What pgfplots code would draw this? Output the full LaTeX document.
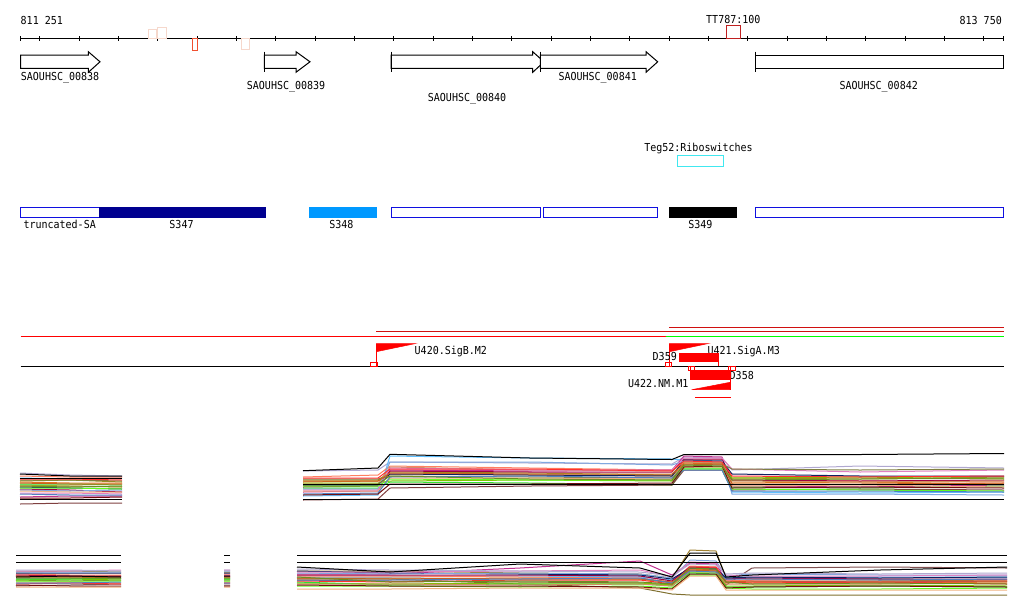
\documentclass[border=0pt]{standalone}
\usepackage{pgfplots}
\pgfplotsset{compat=1.18}
\usepackage{pgfplotstable}
\usepackage{fontspec}
\setmainfont{DejaVu Sans Mono}[FakeStretch=0.91]
\newcommand\lab{\fontsize{11}{13}\selectfont}

\definecolor{tc1}{HTML}{B0A8D0}\definecolor{tc2}{HTML}{60C0FF}\definecolor{tc3}{HTML}{FF7F60}
\definecolor{tc4}{HTML}{A09020}\definecolor{tc5}{HTML}{E07820}\definecolor{tc6}{HTML}{C03090}
\definecolor{tc7}{HTML}{A00040}\definecolor{tc8}{HTML}{80C000}\definecolor{tc9}{HTML}{30E030}
\definecolor{tc10}{HTML}{102060}\definecolor{tc11}{HTML}{80A8E0}\definecolor{tc12}{HTML}{804040}
\definecolor{tc13}{HTML}{D09060}\definecolor{tc14}{HTML}{E080C0}\definecolor{tc15}{HTML}{808040}
\definecolor{tc16}{HTML}{60FF20}\definecolor{tc17}{HTML}{FF3030}\definecolor{tc18}{HTML}{C86020}
\definecolor{tc19}{HTML}{F0B080}\definecolor{tc20}{HTML}{5080C0}\definecolor{tc21}{HTML}{701010}
\definecolor{tc22}{HTML}{6B8E23}

\definecolor{bc1}{HTML}{A08030}\definecolor{bc2}{HTML}{807030}\definecolor{bc3}{HTML}{805050}
\definecolor{bc4}{HTML}{C03090}\definecolor{bc5}{HTML}{60C0FF}\definecolor{bc6}{HTML}{FF7F60}
\definecolor{bc7}{HTML}{E07820}\definecolor{bc8}{HTML}{A00040}\definecolor{bc9}{HTML}{80C000}
\definecolor{bc10}{HTML}{30E030}\definecolor{bc11}{HTML}{102060}\definecolor{bc12}{HTML}{80A8E0}
\definecolor{bc13}{HTML}{D09060}\definecolor{bc14}{HTML}{E080C0}\definecolor{bc15}{HTML}{60FF20}
\definecolor{bc16}{HTML}{FF3030}\definecolor{bc17}{HTML}{C86020}\definecolor{bc18}{HTML}{B0A8D0}
\definecolor{bc19}{HTML}{701010}\definecolor{bc20}{HTML}{5080C0}\definecolor{bc21}{HTML}{F0B080}
\definecolor{bc22}{HTML}{6B8E23}

\definecolor{trackblue}{HTML}{1010E0}
\definecolor{navybar}{HTML}{000090}
\definecolor{skybar}{HTML}{0099FF}
\definecolor{peach}{HTML}{F6D8CC}
\definecolor{orred}{HTML}{F05030}
\definecolor{ttred}{HTML}{C02020}
\definecolor{cyanbox}{HTML}{40E8F0}
\definecolor{dkred}{HTML}{D01010}
\definecolor{brred}{HTML}{FF0000}
\definecolor{brgreen}{HTML}{00FF00}

\pgfplotstableread{
x s1 s2 s3 s4 s5 s6 s7 s8 s9 s10 s11 s12 s13 s14 s15 s16 s17 s18 s19 s20 s21 s22 s23 s24 s25
20 473 478 476 481 482 497 489 485 484 487 490 504 486 493 480 488 479 483 491 494 498 486 474 478.5 499
70 475 479 477 480 483 496 490 486 484 488 491 503 486 493 480 488 479 484 492 495 498 487 476 478.5 499
122 476 478 477 482 483 496 492 487 485 489 490 503 487 494 481 489 480 484 492 495 497 486 476 478.5 499
200 nan nan nan nan nan nan nan nan nan nan nan nan nan nan nan nan nan nan nan nan nan nan nan nan nan
303 471 496 477 480 482 492 487 483 488 485 489 500 484 490 479 486 478 481 491 494 495 485 470.7 484 499.3
378 470 495 475 480 481 491 486 483 488 485 489 499 484 490 479 486 478 481 491 493 494 484 468 484 499.3
390 462 456 466 472 474 470 471 481 482 474 462 488 467 468 476 479 469 473 478 477 484 476 454.3 484 499.3
530 463 458 468 473 475 471 472 480 483 475 462 486 470 470 477 480 469 474 478 476 484 479 458 484 499.3
672 464 459 470 475 476 470 472 481 485 476 465 485 471 470 478 480 471 474 479 478 483 480 459.5 484 499.3
684 457 460 460 462 463 456 459 466 468 460 461 470 462 458 465 469 461 464 467 470 467 465 454.5 484 499.3
722 458 461 460 462 464 457 459 467 468 461 461 470 463 458 464 469 462 464 467 470 466 466 454.5 484 499.3
732 470 492 480 478 483 486 480 478 487 474 494 490 481 469 469 489 476 484 486 491 488 480 454.5 484 499.3
860 466 493 481 479 482 487 481 477 488 476 494 489 482 472 470 490 477 484 485 491 487 479 454.5 484 499.3
1004 468 492 482 477 484 485 480 479 486 476 495 490 481 470 469 491 476 483 487 492 488 478 453.5 484 499.3
}\toptab

\pgfplotstableread{
x b1 b2 b3 b4 b5 b6 b7 b8 b9 b10 b11 b12 b13 b14 b15 b16 b17 b18 b19 b20 b21 b22 b23 b24 b25
16 572 580 586 576 578 574 577 575 580 579 573 572 582 571 581 584 576 570 585 583 587 578 555.3 562.3 577
70 571 581 585 576 578 575 577 576 579 579 573 572 582 571 581 583 577 570 586 583 587 578 555.3 562.3 576
121 572 580 584 577 579 575 576 576 580 578 573 572 583 570 581 584 578 571 586 582 587 578 555.3 562.3 577
170 nan nan nan nan nan nan nan nan nan nan nan nan nan nan nan nan nan nan nan nan nan nan nan nan nan
224 572 580 585 575 578 574 577 576 579 579 573 571 582 570 581 583 577 570 586 583 587 578 555.3 562.3 576
230 572 580 585 575 578 574 577 576 579 579 573 571 582 570 581 583 577 570 586 583 587 578 555.3 562.3 576
260 nan nan nan nan nan nan nan nan nan nan nan nan nan nan nan nan nan nan nan nan nan nan nan nan nan
297 571 578 580 574 577 576 579 575 583 582 571 573 584 572 586 581 578 569 585 580 589 577 555.3 562.3 567
390 571 579 581 574 577 576 579 575 584 585 573 574 584 572 586 582 578 570 586 580 589 582 555.3 562.3 572
520 573 584 582 568 576 577 578 575 583 584 574 573 585 571 587 580 579 571 586 579 588 581 555.3 562.3 564
640 574 588 583 561 577 578 579 576 583 584 575 574 584 570 586 580 579 572 587 578 588 582 555.3 562.3 568
672 578 594 585 575 580 582 583 581 585 586 579 578 586 577 588 584 582 576 589 583 590 584 555.3 562.3 577
690 550 595 570 563 568 566 569 567 572 573 568 560 571 562 575 567 570 564 574 571 576 568 555.3 562.3 553
716 551 595 570 564 569 567 570 568 572 574 569 561 571 563 575 567 571 565 574 572 576 569 555.3 562.3 553
726 578 595 585 580 577 581 583 579 586 587 578 576 584 575 588 582 582 574 588 579 590 582 555.3 562.3 577
752 579 595 568 581 577 580 582 578 586 587 577 574 584 576 589 583 581 573 587 579 590 584 555.3 562.3 575
880 580 595 567 582 577 579 583 579 585 586 578 575 584 576 589 582 581 574 586 580 590 583 555.3 562.3 570
1007 581 595 568 581 577 580 582 579 586 587 577 575 583 575 588 584 581 573 587 579 590 584 555.3 562.3 567
}\bottab

\begin{document}
\begin{tikzpicture}
\begin{axis}[
  scale only axis, width=1024pt, height=611pt,
  xmin=0, xmax=1024, ymin=0, ymax=611, y dir=reverse,
  hide axis, clip=false, unbounded coords=jump,
]
% page frame (invisible)
\path (axis cs:0,0) rectangle (axis cs:1024,611);
% ---------- ruler ----------
\addplot[black, line width=1pt] coordinates {(20.5,38) (1003.5,38)};
\addplot[black, line width=1pt] coordinates {
(20.7,36)(20.7,41)(20.7,nan)(39.7,36)(39.7,41)(39.7,nan)(79.0,36)(79.0,41)(79.0,nan)
(118.4,36)(118.4,41)(118.4,nan)(157.7,36)(157.7,41)(157.7,nan)(197.1,36)(197.1,41)(197.1,nan)
(236.4,36)(236.4,41)(236.4,nan)(275.7,36)(275.7,41)(275.7,nan)(315.1,36)(315.1,41)(315.1,nan)
(354.4,36)(354.4,41)(354.4,nan)(393.7,36)(393.7,41)(393.7,nan)(433.1,36)(433.1,41)(433.1,nan)
(472.4,36)(472.4,41)(472.4,nan)(511.8,36)(511.8,41)(511.8,nan)(551.1,36)(551.1,41)(551.1,nan)
(590.4,36)(590.4,41)(590.4,nan)(629.8,36)(629.8,41)(629.8,nan)(669.1,36)(669.1,41)(669.1,nan)
(708.4,36)(708.4,41)(708.4,nan)(747.8,36)(747.8,41)(747.8,nan)(787.1,36)(787.1,41)(787.1,nan)
(826.5,36)(826.5,41)(826.5,nan)(865.8,36)(865.8,41)(865.8,nan)(905.1,36)(905.1,41)(905.1,nan)
(944.5,36)(944.5,41)(944.5,nan)(983.8,36)(983.8,41)(983.8,nan)(1003.3,36)(1003.3,41)};
\node[anchor=base west, font=\lab, inner sep=0pt] at (axis cs:20.5,24) {811 251};
\node[anchor=base east, font=\lab, inner sep=0pt] at (axis cs:1002,24) {813 750};
\node[anchor=base west, font=\lab, inner sep=0pt] at (axis cs:706,23) {TT787:100};
% small boxes on ruler
\addplot[peach, line width=1pt] coordinates {(148.3,29.3)(156.7,29.3)(156.7,38)(148.3,38)} --cycle;
\addplot[peach, line width=1pt] coordinates {(157.3,27.7)(166.7,27.7)(166.7,38)(157.3,38)} --cycle;
\addplot[orred, line width=1pt] coordinates {(192.3,38.5)(197.7,38.5)(197.7,50)(192.3,50)} --cycle;
\addplot[peach, line width=1pt] coordinates {(241,38.5)(249.7,38.5)(249.7,49.7)(241,49.7)} --cycle;
\addplot[ttred, line width=1pt] coordinates {(726,25.5)(740.3,25.5)(740.3,38)(726,38)} --cycle;
% ---------- genes ----------
\addplot[black, fill=white, line width=1pt] coordinates {(20.7,55)(88.3,55)(88.3,51.7)(100,61.8)(88.3,72.3)(88.3,68.3)(20.7,68.3)} --cycle;
\addplot[black, fill=white, line width=1pt] coordinates {(264.3,55)(296,55)(296,51.7)(310,61.8)(296,72.3)(296,68.3)(264.3,68.3)} --cycle;
\addplot[black, line width=1pt] coordinates {(264.3,51.7)(264.3,72.3)};
\addplot[black, fill=white, line width=1pt] coordinates {(391,55)(532.7,55)(532.7,51.7)(544,61.8)(532.7,72.3)(532.7,68.3)(391,68.3)} --cycle;
\addplot[black, line width=1pt] coordinates {(391,51.7)(391,72.3)};
\addplot[black, fill=white, line width=1pt] coordinates {(540.3,55)(646,55)(646,51.7)(657.7,61.8)(646,72.3)(646,68.3)(540.3,68.3)} --cycle;
\addplot[black, line width=1pt] coordinates {(540.3,51.7)(540.3,72.3)};
\addplot[black, fill=white, line width=1pt] coordinates {(755.7,55)(1003.3,55)(1003.3,68.3)(755.7,68.3)} --cycle;
\addplot[black, line width=1pt] coordinates {(755.7,51.7)(755.7,72.3)};
\node[anchor=base west, font=\lab, inner sep=0pt] at (axis cs:20.7,80) {SAOUHSC\_00838};
\node[anchor=base west, font=\lab, inner sep=0pt] at (axis cs:246.7,89) {SAOUHSC\_00839};
\node[anchor=base west, font=\lab, inner sep=0pt] at (axis cs:427.7,101) {SAOUHSC\_00840};
\node[anchor=base west, font=\lab, inner sep=0pt] at (axis cs:558.3,80) {SAOUHSC\_00841};
\node[anchor=base west, font=\lab, inner sep=0pt] at (axis cs:839.3,89) {SAOUHSC\_00842};
% ---------- riboswitch ----------
\node[anchor=base, font=\lab, inner sep=0pt] at (axis cs:698.5,151.5) {Teg52:Riboswitches};
\addplot[cyanbox, line width=1pt] coordinates {(677,155.5)(723.3,155.5)(723.3,166)(677,166)} --cycle;
% ---------- transcripts track ----------
\addplot[trackblue, fill=white, line width=1pt] coordinates {(20.7,207.7)(99,207.7)(99,217.3)(20.7,217.3)} --cycle;
\addplot[navybar, fill=navybar, line width=1pt] coordinates {(99,207.7)(265,207.7)(265,217.3)(99,217.3)} --cycle;
\addplot[skybar, fill=skybar, line width=1pt] coordinates {(309,207.7)(376,207.7)(376,217.3)(309,217.3)} --cycle;
\addplot[trackblue, fill=white, line width=1pt] coordinates {(391.3,207.7)(540.7,207.7)(540.7,217.3)(391.3,217.3)} --cycle;
\addplot[trackblue, fill=white, line width=1pt] coordinates {(543,207.7)(657.3,207.7)(657.3,217.3)(543,217.3)} --cycle;
\addplot[black, fill=black, line width=1pt] coordinates {(669,207.7)(736,207.7)(736,217.3)(669,217.3)} --cycle;
\addplot[trackblue, fill=white, line width=1pt] coordinates {(755.3,207.7)(1003.3,207.7)(1003.3,217.3)(755.3,217.3)} --cycle;
\node[anchor=base west, font=\lab, inner sep=0pt] at (axis cs:23.3,228) {truncated-SA};
\node[anchor=base, font=\lab, inner sep=0pt] at (axis cs:181.5,228) {S347};
\node[anchor=base, font=\lab, inner sep=0pt] at (axis cs:341.3,228) {S348};
\node[anchor=base, font=\lab, inner sep=0pt] at (axis cs:700.3,228) {S349};
% ---------- promoters / terminators ----------
\addplot[color=brred, line width=1pt] coordinates {(20.5,336)(665.5,336)};
\addplot[color=brgreen, line width=1pt] coordinates {(665.5,336)(1004,336)};
\addplot[color=dkred, line width=1pt] coordinates {(376,331.3)(1004,331.3)};
\addplot[color=dkred, line width=1pt] coordinates {(669,327)(1004,327)};
\addplot[black, line width=1pt] coordinates {(20.5,366.3)(1004,366.3)};
% U420
\addplot[color=brred, line width=1pt] coordinates {(376.3,343.5)(376.3,366)};
\addplot[color=brred, fill=brred, line width=0.5pt] coordinates {(376.3,343.5)(415.7,343.5)(376.3,351.7)} --cycle;
\addplot[color=brred, line width=1pt] coordinates {(370.3,362.3)(377,362.3)(377,366.3)(370.3,366.3)} --cycle;
\node[anchor=base west, font=\lab, inner sep=0pt] at (axis cs:414.5,354) {U420.SigB.M2};
% U421
\addplot[color=brred, line width=1pt] coordinates {(669.3,343.5)(669.3,366)};
\addplot[color=brred, fill=brred, line width=0.5pt] coordinates {(669.3,343.5)(708.5,343.5)(669.3,351.7)} --cycle;
\addplot[color=brred, line width=1pt] coordinates {(665.3,362.3)(671.7,362.3)(671.7,366.3)(665.3,366.3)} --cycle;
\node[anchor=base west, font=\lab, inner sep=0pt] at (axis cs:707.3,354) {U421.SigA.M3};
% D359
\addplot[color=brred, fill=brred, line width=0.5pt] coordinates {(679.3,353)(718.7,353)(718.7,361.7)(679.3,361.7)} --cycle;
\addplot[color=brred, line width=1pt] coordinates {(718.7,353)(718.7,366.3)};
\node[anchor=base east, font=\lab, inner sep=0pt] at (axis cs:677,360.5) {D359};
% D358
\addplot[color=brred, fill=brred, line width=0.5pt] coordinates {(690.7,370.7)(729.3,370.7)(729.3,379.3)(690.7,379.3)} --cycle;
\addplot[color=brred, line width=1pt] coordinates {(688.3,366.3)(694,366.3)(694,370.7)(688.3,370.7)} --cycle;
\addplot[color=brred, line width=1pt] coordinates {(728.3,366.3)(735.7,366.3)(735.7,370.7)(728.3,370.7)} --cycle;
\addplot[color=brred, line width=1pt] coordinates {(690.7,366.3)(690.7,371)};
\node[anchor=base west, font=\lab, inner sep=0pt] at (axis cs:729.5,379) {D358};
% U422
\addplot[color=brred, line width=1pt] coordinates {(730,366.3)(730,390)};
\addplot[color=brred, fill=brred, line width=0.5pt] coordinates {(691.7,389.7)(730,389.7)(730,382.3)} --cycle;
\node[anchor=base east, font=\lab, inner sep=0pt] at (axis cs:688.5,387) {U422.NM.M1};
\addplot[color=brred, line width=1pt] coordinates {(695,397.3)(730.7,397.3)};
% ---------- expression panels ----------
\pgfplotsinvokeforeach{1,...,22}{
  \addplot[color=tc#1, line width=1pt] table[x=x, y=s#1] {\toptab};
}
\addplot[black, line width=1pt] table[x=x, y=s23] {\toptab};
\addplot[black, line width=1pt] table[x=x, y=s24] {\toptab};
\addplot[black, line width=1pt] table[x=x, y=s25] {\toptab};
\pgfplotsinvokeforeach{1,...,22}{
  \addplot[color=bc#1, line width=1pt] table[x=x, y=b#1] {\bottab};
}
\addplot[black, line width=1pt] table[x=x, y=b23] {\bottab};
\addplot[black, line width=1pt] table[x=x, y=b24] {\bottab};
\addplot[black, line width=1pt] table[x=x, y=b25] {\bottab};
\end{axis}
\end{tikzpicture}
\end{document}
